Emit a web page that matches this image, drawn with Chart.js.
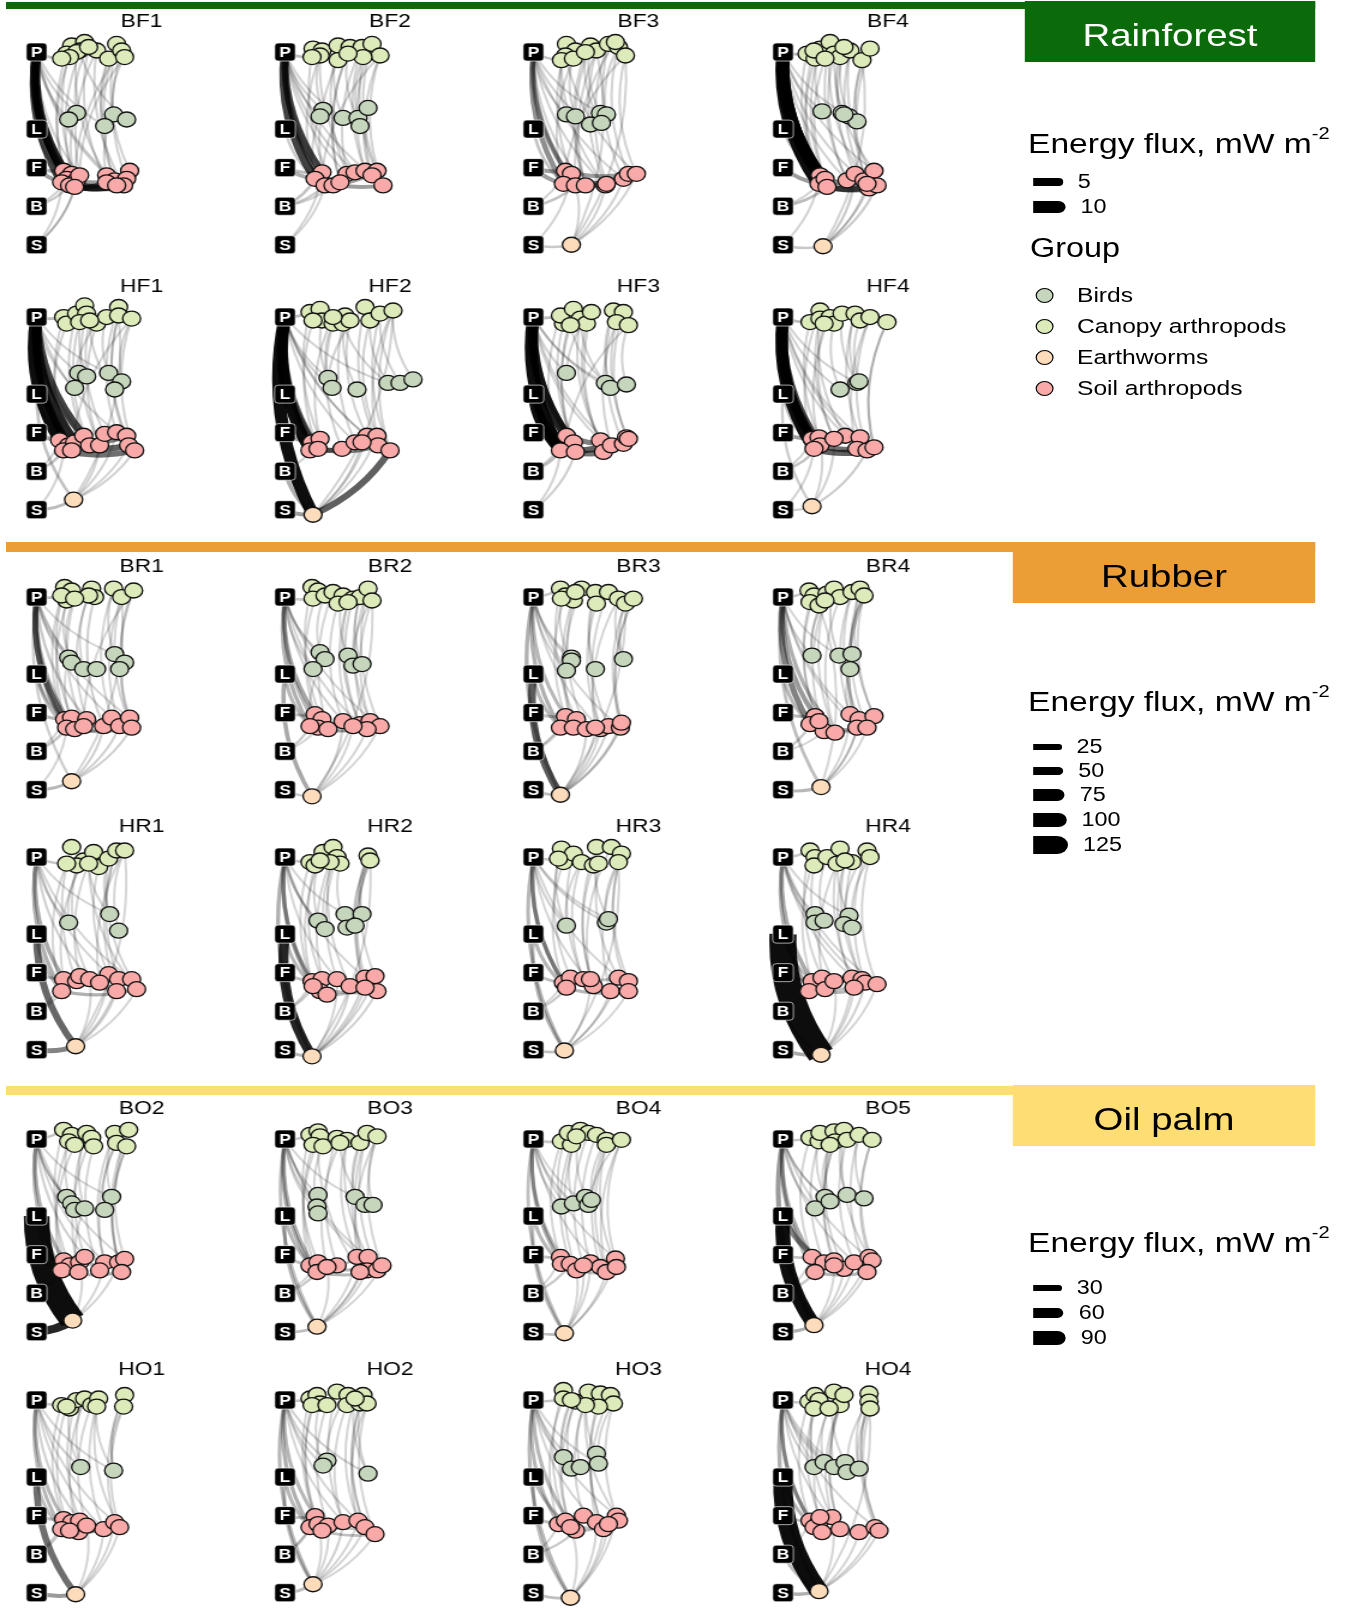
<!DOCTYPE html>
<html>
<head>
<meta charset="utf-8">
<title>Energy flux networks</title>
<script src="https://cdn.jsdelivr.net/npm/chart.js@4.4.1/dist/chart.umd.min.js"></script>
<style>
  html, body { margin: 0; padding: 0; background: #fff; }
  body { width: 1348px; height: 1610px; overflow: hidden; font-family: "Liberation Sans", Arial, sans-serif; }
  #fig { position: absolute; left: 0; top: 0; width: 1124px; height: 1610px; transform: scaleX(1.2); transform-origin: 0 0; }
  #fig > div, #fig > canvas { position: absolute; }
  .hdr { display: flex; align-items: center; justify-content: center; font-size: 32px; box-sizing: border-box; padding-top: 7px; }
  .txt { white-space: nowrap; line-height: 1; transform: translateY(-50%); }
  .dot { border: 1.3px solid #000; border-radius: 50%; box-sizing: border-box; }
</style>
</head>
<body>
<div id="fig"></div>
<script>
// ---- data ----
const panelNames = ["BF1", "BF2", "BF3", "BF4", "HF1", "HF2", "HF3", "HF4",
  "BR1", "BR2", "BR3", "BR4", "HR1", "HR2", "HR3", "HR4",
  "BO2", "BO3", "BO4", "BO5", "HO1", "HO2", "HO3", "HO4"];

const systemNames = ["Rainforest", "Rubber", "Oil palm"];
const fluxBreaks = [[5, 10], [25, 50, 75, 100, 125], [30, 60, 90]];
const groupNames = ["Birds", "Canopy arthropods", "Earthworms", "Soil arthropods"];
const resourceNames = ["P", "L", "F", "B", "S"];
const resourceLevels = [0, 2, 3, 4, 5];

// node layout: [x offset from the resource column, trophic level]
const canopyNodes = [
  [[35,-0.17],[48,-0.26],[43,-0.04],[30,0.04],[40,0],[60,-0.04],[33,0.13],[25,0.17],[80,-0.21],[72,0.17],[85,-0.04],[88,0.13],[52,-0.13]],
  [[28,-0.09],[37,-0.04],[53,-0.17],[65,-0.13],[77,-0.13],[87,-0.21],[95,0.09],[78,0.13],[53,0.21],[35,0.09],[27,0.13],[63,0.04]],
  [[33,-0.21],[42,-0.04],[32,0.09],[28,0.21],[40,0.17],[57,-0.17],[63,-0.04],[75,-0.21],[85,-0.13],[92,0.09],[82,-0.26],[52,0]],
  [[24,0.04],[32,0.17],[37,-0.09],[47,-0.26],[51,0.04],[57,0.13],[67,-0.04],[79,0.21],[87,-0.09],[61,-0.13],[31,-0.04],[42,0.17]],
  [[27,0],[30,0.17],[40,-0.09],[48,-0.3],[50,-0.09],[43,0.13],[60,0.17],[70,0],[82,-0.26],[82,-0.04],[95,0.04],[53,0.09]],
  [[25,-0.13],[35,-0.21],[37,0.09],[28,0.09],[48,0.17],[60,-0.04],[58,0.17],[65,0.09],[80,-0.26],[85,0.09],[95,-0.09],[108,-0.17],[48,0]],
  [[30,0.17],[27,-0.04],[40,-0.21],[47,0.04],[53,0.17],[58,-0.13],[80,-0.17],[90,-0.13],[83,0.13],[95,0.21],[37,0.21]],
  [[27,0.13],[37,-0.17],[37,0.04],[47,0],[51,0.17],[59,-0.09],[72,-0.09],[77,0.09],[87,0],[104,0.13],[41,0.17]],
  [[28,-0.26],[35,-0.17],[30,0.09],[25,-0.04],[55,-0.22],[58,0],[52,-0.04],[77,-0.22],[85,0],[97,-0.17],[38,0.04]],
  [[27,-0.26],[33,-0.17],[28,0.04],[40,-0.04],[48,-0.13],[58,-0.04],[53,0.17],[68,0.04],[75,0],[83,-0.22],[87,0.09],[63,0.13]],
  [[27,-0.22],[32,-0.04],[40,0.09],[28,0.04],[48,-0.22],[62,-0.13],[63,0.17],[75,-0.13],[85,0.04],[92,0.17],[100,0.04],[42,-0.13]],
  [[26,-0.17],[31,-0.04],[27,0.13],[36,0.22],[44,-0.09],[51,-0.22],[57,0],[69,-0.13],[77,-0.22],[81,-0.04],[42,0.09]],
  [[35,-0.26],[47,0.09],[40,0.22],[30,0.17],[57,-0.13],[62,0.26],[72,0.04],[80,-0.17],[88,-0.17],[52,0.17]],
  [[25,0.13],[30,0.22],[38,-0.13],[48,-0.26],[52,0],[55,0.17],[45,0.13],[83,-0.04],[85,0.09],[35,0.09]],
  [[28,-0.22],[30,0.13],[40,-0.09],[48,0.13],[60,0.22],[65,0.17],[63,-0.26],[78,-0.26],[88,-0.09],[85,0.13],[25,0.04]],
  [[27,-0.17],[32,0],[31,0.22],[44,0],[57,-0.22],[69,0.13],[54,0.17],[84,-0.17],[87,0],[62,0.09]],
  [[27,-0.24],[35,-0.11],[32,0.06],[38,0.15],[50,-0.16],[55,-0.03],[57,0.19],[78,-0.16],[92,-0.24],[80,0.1],[90,0.19]],
  [[25,-0.11],[33,-0.2],[35,-0.07],[28,0.15],[38,0.19],[52,-0.03],[62,0.02],[75,0.1],[82,-0.16],[92,-0.07],[55,0.1]],
  [[28,0.06],[38,0.15],[35,-0.16],[47,-0.24],[55,-0.16],[63,-0.11],[73,0.02],[73,0.15],[88,0.02],[43,-0.07]],
  [[27,-0.03],[36,0.06],[37,-0.16],[51,-0.2],[61,-0.24],[52,0.06],[64,0.02],[76,-0.11],[89,0.02],[47,0.15]],
  [[25,0.13],[33,0.22],[40,0],[48,-0.04],[55,0.13],[62,-0.04],[60,0.17],[88,-0.13],[87,0.17],[30,0.17]],
  [[25,-0.04],[32,-0.13],[35,0.09],[27,0.13],[42,0.13],[52,-0.22],[63,-0.13],[62,0.13],[75,0.09],[78,-0.13],[82,0.09],[70,-0.04]],
  [[30,-0.26],[30,-0.04],[42,0.04],[55,-0.22],[67,-0.17],[77,-0.13],[80,0.09],[65,0.17],[52,0.13],[38,0]],
  [[26,0.04],[32,-0.13],[36,0],[31,0.22],[51,-0.22],[57,0.13],[61,-0.13],[86,-0.17],[86,0.04],[87,0.22],[46,0.22]]
];

const birdNodes = [
  [[40,1.58],[32,1.75],[77,1.62],[68,1.92],[90,1.75]],
  [[38,1.5],[35,1.67],[58,1.71],[73,1.71],[83,1.45],[75,1.92]],
  [[33,1.62],[42,1.67],[67,1.58],[73,1.62],[57,1.88],[68,1.84]],
  [[39,1.54],[59,1.58],[66,1.67],[74,1.8],[61,1.62]],
  [[42,1.45],[50,1.54],[38,1.84],[72,1.45],[85,1.67],[78,1.88]],
  [[43,1.58],[47,1.84],[72,1.88],[103,1.71],[115,1.71],[128,1.62]],
  [[33,1.45],[72,1.71],[77,1.84],[93,1.75]],
  [[57,1.88],[74,1.71],[76,1.67]],
  [[32,1.57],[35,1.7],[47,1.87],[60,1.87],[78,1.48],[88,1.7],[83,1.87]],
  [[35,1.43],[40,1.61],[28,1.87],[63,1.52],[68,1.78],[77,1.74]],
  [[38,1.57],[38,1.65],[33,1.91],[62,1.87],[90,1.61]],
  [[29,1.52],[56,1.52],[69,1.48],[67,1.87]],
  [[32,1.7],[73,1.48],[82,1.91]],
  [[33,1.65],[40,1.87],[60,1.48],[77,1.48],[62,1.83],[70,1.78]],
  [[33,1.78],[73,1.7],[75,1.61]],
  [[32,1.48],[32,1.7],[41,1.65],[66,1.52],[61,1.74],[69,1.83]],
  [[30,1.5],[35,1.67],[38,1.84],[48,1.8],[75,1.5],[68,1.84]],
  [[33,1.45],[32,1.75],[33,1.93],[70,1.5],[80,1.71],[88,1.71]],
  [[28,1.75],[40,1.67],[52,1.5],[55,1.71],[58,1.58]],
  [[42,1.5],[32,1.8],[47,1.62],[64,1.45],[81,1.54]],
  [[44,1.74],[77,1.83]],
  [[42,1.57],[38,1.7],[83,1.91]],
  [[30,1.48],[38,1.78],[47,1.74],[63,1.39],[65,1.65]],
  [[31,1.74],[41,1.61],[51,1.74],[62,1.61],[64,1.87],[76,1.78]]
];

const soilNodes = [
  [[27,3.08],[35,3.16],[30,3.29],[40,3.33],[25,3.38],[33,3.46],[43,3.2],[38,3.5],[70,3.2],[78,3.33],[93,3.08],[90,3.29],[70,3.38],[87,3.46],[80,3.46]],
  [[37,3.12],[30,3.29],[40,3.46],[48,3.46],[62,3.16],[70,3.12],[80,3.08],[92,3.08],[87,3.2],[98,3.46],[55,3.38]],
  [[32,3.08],[38,3.16],[30,3.42],[42,3.46],[52,3.46],[72,3.46],[73,3.42],[90,3.29],[95,3.16],[103,3.16]],
  [[37,3.2],[36,3.42],[42,3.29],[44,3.5],[64,3.33],[72,3.16],[81,3.33],[91,3.08],[86,3.54],[94,3.46],[84,3.42]],
  [[23,3.2],[32,3.33],[27,3.46],[38,3.25],[47,3.08],[53,3.33],[63,3.33],[68,3.03],[80,2.99],[90,3.08],[92,3.33],[98,3.46],[35,3.46]],
  [[27,3.25],[25,3.46],[35,3.16],[33,3.42],[57,3.42],[70,3.25],[82,3.08],[92,3.08],[93,3.33],[105,3.46],[77,3.25]],
  [[33,3.08],[40,3.25],[27,3.46],[42,3.5],[67,3.2],[70,3.5],[78,3.33],[90,3.29],[93,3.12],[95,3.16]],
  [[29,3.16],[36,3.12],[37,3.33],[31,3.42],[62,3.08],[77,3.12],[74,3.42],[84,3.46],[91,3.38],[51,3.16]],
  [[28,3.17],[35,3.13],[30,3.39],[38,3.43],[50,3.17],[67,3.35],[75,3.13],[83,3.35],[93,3.13],[95,3.39],[47,3.35]],
  [[30,3.04],[37,3.17],[33,3.39],[25,3.35],[58,3.22],[75,3.3],[85,3.22],[95,3.35],[82,3.43],[68,3.35],[43,3.43]],
  [[32,3.09],[43,3.17],[27,3.39],[40,3.39],[53,3.43],[67,3.43],[75,3.35],[87,3.39],[88,3.26],[62,3.39]],
  [[32,3.09],[27,3.3],[41,3.48],[52,3.52],[67,3.04],[76,3.17],[74,3.39],[91,3.09],[84,3.39],[36,3.22]],
  [[27,3.17],[40,3.22],[25,3.48],[43,3.09],[53,3.17],[72,3.04],[82,3.17],[95,3.17],[80,3.48],[100,3.43],[63,3.26]],
  [[27,3.22],[37,3.17],[35,3.48],[28,3.35],[52,3.17],[65,3.35],[80,3.13],[90,3.09],[92,3.48],[80,3.39],[42,3.57]],
  [[30,3.26],[37,3.13],[33,3.39],[50,3.17],[60,3.35],[77,3.48],[85,3.13],[95,3.22],[95,3.48],[57,3.17]],
  [[29,3.22],[39,3.13],[26,3.48],[42,3.43],[69,3.13],[79,3.17],[82,3.26],[94,3.3],[71,3.39],[51,3.22]],
  [[27,3.15],[33,3.28],[25,3.41],[43,3.2],[48,3.06],[42,3.45],[68,3.2],[82,3.2],[88,3.11],[85,3.45],[63,3.41]],
  [[25,3.28],[33,3.2],[32,3.45],[52,3.28],[72,3.06],[83,3.06],[82,3.41],[92,3.41],[97,3.28],[75,3.45],[42,3.32]],
  [[27,3.06],[28,3.24],[37,3.24],[43,3.41],[57,3.2],[67,3.32],[73,3.45],[82,3.1],[83,3.32],[50,3.28]],
  [[29,3.06],[41,3.2],[32,3.45],[51,3.15],[61,3.37],[71,3.2],[86,3.06],[89,3.15],[84,3.45],[51,3.28]],
  [[27,3.09],[35,3.17],[25,3.35],[42,3.43],[43,3.13],[67,3.35],[78,3.17],[83,3.3],[33,3.39],[50,3.26]],
  [[30,3.01],[25,3.3],[33,3.22],[43,3.26],[58,3.17],[73,3.13],[80,3.3],[90,3.48],[37,3.39]],
  [[25,3.22],[32,3.13],[42,3.39],[50,3.0],[63,3.17],[70,3.35],[83,3.0],[85,3.13],[75,3.22],[37,3.3]],
  [[27,3.13],[36,3.17],[31,3.3],[39,3.43],[49,3.04],[57,3.35],[76,3.43],[92,3.3],[96,3.39],[37,3.04]]
];

const wormNodes = [null, null, [38,5.0], [40,5.04], [37,4.74], [28,5.13], null, [29,4.91],
  [35,4.78], [27,5.17], [27,5.13], [38,4.93], [39,4.91], [27,5.17], [31,5.02], [38,5.13],
  [36,4.71], [32,4.87], [31,5.04], [31,4.83], [39,5.04], [28,4.78], [37,5.13], [36,4.96]];

// links "from to flux" in mW m-2 (c = canopy, b = bird, s = soil, w = earthworm)
const fluxLinks = [
  "P s0 6, P s4 5, P s2 4, P s5 3, P c7 1, F s4 2, F s0 1.5, L s2 0.6, B s5 0.6, S s7 0.3, S s4 0.3, s4 s13 5, s5 s14 4, s7 s12 3, s2 s11 2, P b1 0.3, P s8 0.3, P b0 0.3, c0 s3 0.3, c5 s6 0.3, c8 s9 0.3, c10 s7 0.3, c11 b2 0.3, c12 s12 0.3, c9 b3 0.3, c4 s8 0.3, c11 s6 0.3, b0 s3 0.3, c2 b4 0.3, c3 s5 0.3, P s6 0.3, P s9 0.3, P b3 0.3, c1 s1 0.3, c6 s2 0.3, c8 s10 0.3, c10 s11 0.3, c12 b0 0.3, c9 s14 0.3, B s1 0.3, S s3 0.3, c5 s13 0.3, b2 s8 0.3",
  "P s1 5, P s0 4, P s2 2.5, P s3 2, P c10 1, F s1 1.5, F s0 1, L s1 0.6, B s1 0.8, B s2 0.5, S s2 0.3, s1 s9 2, s2 s7 2, P b1 0.3, P b2 0.3, P s4 0.3, c0 s3 0.3, c2 b2 0.3, c4 s4 0.3, c5 s6 0.3, c6 s0 0.3, c7 b5 0.3, c8 s2 0.3, c11 b3 0.3, c3 s10 0.3, c9 s5 0.3, b0 s1 0.3, b4 s8 0.3, c6 s9 0.3, P s5 0.3, P s8 0.3, P b0 0.3, c1 s1 0.3, c4 s6 0.3, c5 s7 0.3, c6 s8 0.3, c2 s4 0.3, c9 b0 0.3, c11 s10 0.3, S s0 0.3, B s3 0.3, c7 s9 0.3",
  "P s2 2.5, P s0 2, P s3 1.5, P c3 0.8, F s0 2, F s2 2, L s2 0.8, B s3 0.8, S w 0.6, s2 s9 3.5, s3 s7 3, s0 s8 2, P b0 0.3, P b4 0.3, P s4 0.3, c0 s1 0.3, c1 b1 0.3, c3 s5 0.3, c5 b2 0.3, c6 s4 0.3, c7 s6 0.3, c8 b3 0.3, c9 s0 0.3, c10 s3 0.3, c11 b5 0.3, c2 s9 0.3, w s3 0.3, w s5 0.3, w s7 0.3, w c6 0.3, w c9 0.3, P s5 0.3, P s7 0.3, P b2 0.3, c4 s2 0.3, c5 s4 0.3, c6 s5 0.3, c7 s7 0.3, c8 s8 0.3, c9 s9 0.3, c11 s4 0.3, c0 b0 0.3, S s1 0.3, B s0 0.3, w s9 0.3",
  "P s1 9, P s0 8, P s3 7, P s2 5, P c0 1, F s1 2, L s0 1, B s3 1, S w 0.6, s1 s8 3.5, s3 s9 3.5, s2 s10 3, P b0 0.3, P s4 0.3, c0 s0 0.3, c2 b0 0.3, c3 s4 0.3, c5 b1 0.5, c6 s6 0.3, c7 s8 0.3, c8 b3 0.3, c9 s5 0.3, c11 s2 0.3, c4 s7 0.3, w s5 0.5, w s9 0.5, w s7 0.3, w c7 0.3, P s5 0.3, P s7 0.3, P b2 0.3, c1 s1 0.3, c2 s3 0.3, c4 s4 0.3, c6 s9 0.3, c8 s10 0.3, c9 b2 0.3, c10 s0 0.3, c3 s6 0.3, S s0 0.3, B s1 0.3, w s10 0.3",
  "P s0 8, P s3 6, P s4 5, P s1 4, P s12 4, P c0 1, F s0 2, L s1 1, B s2 0.8, S w 1, L w 0.8, s1 s10 4, s2 s11 3.5, s3 s9 3, P b0 0.3, P b2 0.3, c1 s2 0.3, c3 b1 0.3, c5 s5 0.3, c6 s6 0.3, c7 b3 0.3, c9 s9 0.3, c10 b4 0.3, c10 s11 0.3, c11 b5 0.3, w s6 0.3, w s8 0.3, w s11 0.3, w c9 0.3, P s5 0.3, P s8 0.3, P b3 0.3, c0 s1 0.3, c2 s4 0.3, c4 s6 0.3, c8 s8 0.3, c9 s10 0.3, c10 s12 0.3, c6 b2 0.3, c11 s7 0.3, B s0 0.3, S s2 0.3, w s10 0.3",
  "P w 8, P s1 7, P s0 4, P s3 3, P c0 1, F s0 2, L s3 1, B w 1.5, S w 2, w s9 4, s3 s8 3, s1 s10 2.5, P b0 0.3, P b3 0.3, P s5 0.3, c2 b1 0.3, c4 s4 0.3, c5 b2 0.3, c7 s6 0.3, c8 b0 0.3, c9 s7 0.3, c10 b4 0.3, c11 b5 0.3, c11 s9 0.3, c12 s2 0.3, c6 b3 0.3, w s6 0.3, w c11 0.3, P s6 0.3, P s8 0.3, P b1 0.3, c0 s2 0.3, c3 s3 0.3, c5 s5 0.3, c8 s8 0.3, c9 b3 0.3, c10 s9 0.3, c11 s7 0.3, c4 b0 0.3, B s2 0.3, w s7 0.3, w s10 0.3",
  "P s2 8, P s0 6, L s2 7, L s3 3, P s1 3, P c1 1, F s0 2, B s2 1, S s3 0.4, s2 s9 4, s3 s5 3.5, s0 s7 3, P b0 0.3, P b2 0.3, c0 s1 0.3, c3 b1 0.3, c4 s4 0.3, c6 b2 0.3, c8 s6 0.3, c9 b3 0.3, c9 s0 0.3, c10 s3 0.3, c5 s5 0.3, P s4 0.3, P s6 0.3, P b1 0.3, c1 s2 0.3, c2 s3 0.3, c3 s4 0.3, c5 b0 0.3, c6 s7 0.3, c7 s8 0.3, c8 s9 0.3, B s0 0.3, S s2 0.3, c10 b1 0.3",
  "P s3 8, P s0 6, P s2 5, P c0 1, F s0 2, L s3 1, B s2 0.8, S w 0.5, L w 0.5, s3 s7 4, s2 s8 3.5, P b1 0.3, P s4 0.3, c2 s9 0.3, c4 b0 0.3, c6 s5 0.3, c7 b2 0.3, c8 s6 0.3, c9 s8 0.3, c5 b1 0.3, c3 s2 0.3, w s7 0.5, w s1 0.3, P s5 0.3, P s7 0.3, P b0 0.3, c0 s1 0.3, c1 s3 0.3, c2 s4 0.3, c6 b1 0.3, c8 s7 0.3, c9 s8 0.3, c10 s9 0.3, B s0 0.3, S s3 0.3, w s9 0.3",
  "P s0 25, P s2 20, P s3 12, P c3 8, L s2 10, L s0 8, F s0 10, B s2 6, S w 10, P b0 3, P b2 3, P s4 5, P w 4, c0 s1 3, c2 b1 2, c4 b2 2, c5 s5 3, c7 b4 3, c8 s7 2, c9 s8 3, c9 b5 2, c10 s10 2, s2 s9 12, s3 s7 10, w s5 3, w s7 3, w s9 3, w c8 2, b0 s3 2, P s6 2, P s8 2, P b4 2, c1 s0 2, c3 s2 2, c6 s4 2, c7 s6 2, c8 s9 2, c9 s10 2, c10 b0 2, b5 s8 2, B s0 2, S s2 2",
  "P s0 15, P s3 12, P s2 10, P c2 6, L s3 10, F s0 8, B s3 5, S w 5, L w 14, P b2 3, P b1 3, P s4 3, c0 s1 2, c3 b0 2, c5 b3 2, c7 s5 3, c8 b5 2, c9 s7 2, c10 s6 2, c11 s9 2, s3 s7 8, s2 s8 6, w s4 3, w s7 2, w c10 2, P s5 2, P s7 2, P b0 2, c1 s0 2, c4 s10 2, c6 s4 2, c8 s6 2, c9 s8 2, c10 b4 2, c11 s5 2, b1 s3 2, B s2 2, w s9 2, w s6 2",
  "L w 35, P w 12, P s2 12, P s0 10, P c0 6, L s2 10, F s0 8, B s2 5, S w 8, P b0 3, P b2 3, c0 s1 2, c3 b1 2, c4 s3 2, c5 b3 2, c7 s5 2, c9 b4 3, c10 s7 2, c10 s8 2, c8 b4 2, w s4 3, w s6 3, w s8 3, w s7 3, w c9 2, s2 s6 5, P s5 2, P s7 2, P b1 2, c1 s0 2, c2 s4 2, c5 s6 2, c6 s5 2, c9 s8 2, c11 s3 2, c8 s9 2, B s0 2, w s9 2, w s5 2",
  "P s1 25, P s0 18, P s3 12, P c0 6, L s1 10, F s0 10, B s1 5, S w 10, P w 8, P b0 3, c4 b0 2, c5 b1 3, c7 s4 2, c9 b2 3, c9 s6 10, c8 s7 2, c6 s3 2, c10 s2 2, s1 s8 14, s3 s6 10, w s6 2, w s8 2, w c3 2, b3 s4 2, P s4 2, P s6 2, P b1 2, c1 s0 2, c2 s9 2, c4 s3 2, c7 s5 2, c8 s8 2, c9 s7 2, c10 b0 2, B s2 2, w s4 2, w s5 2",
  "L w 32, P s0 14, P s2 12, P c3 6, L s2 10, F s0 8, B s2 4, S w 24, P b0 3, P s4 3, c0 s1 2, c1 b0 2, c4 s3 2, c6 b1 2, c7 s6 2, c8 b2 2, c9 s9 2, c5 s5 2, s2 s9 12, s3 s8 8, w s6 3, w s9 2, w s5 2, w c8 2, P s5 2, P s7 2, P b1 2, c1 s0 2, c2 s4 2, c3 s2 2, c6 s7 2, c7 s8 2, c8 s10 2, c9 b1 2, B s0 2, w s4 2, w s8 2",
  "L w 50, P w 12, P s3 14, P s0 12, P c0 6, L s3 10, F s0 8, B s3 5, S w 10, P b0 3, P b1 3, c2 b0 2, c4 s4 2, c5 b4 2, c7 b3 3, c8 s6 3, c8 b5 3, c7 s9 2, c6 s10 2, s3 s8 10, s10 s9 8, w s5 3, w s6 3, w s8 3, w s7 2, w c8 2, P s4 2, P s6 2, P b2 2, c0 s3 2, c1 s1 2, c3 s5 2, c4 b1 2, c7 s7 2, c8 s9 2, c9 s0 2, B s0 2, w s4 2, w s9 2",
  "P s2 14, P s0 12, P w 10, P c10 6, L s2 10, L w 10, F s0 8, B s2 5, S w 8, P b0 3, P b1 3, c0 s1 2, c3 b0 2, c4 s4 2, c6 b2 2, c8 s7 2, c9 b1 2, c9 s5 2, c2 s3 2, s2 s8 10, s1 s6 8, w s5 2, w s8 2, w c9 2, P s4 2, P s6 2, P b2 2, c1 s0 2, c3 s3 2, c5 s6 2, c6 s4 2, c7 s9 2, c8 s8 2, c10 b0 2, B s0 2, w s6 2, w s9 2",
  "L w 160, P s0 14, P s2 12, P c0 6, L s0 8, F s0 8, B w 10, S w 14, P b0 3, P b1 3, P s4 2, c3 b2 2, c4 b3 2, c5 s5 2, c7 b4 2, c8 s7 2, c9 s8 2, c6 s3 2, s2 s7 10, s3 s6 8, w s6 3, w s7 2, w s8 2, P s5 2, P s7 2, P b3 2, c0 s1 2, c1 s0 2, c2 s9 2, c4 s4 2, c7 s6 2, c8 b5 2, c9 s5 2, B s0 2, w s4 2, w s9 2",
  "L w 150, S w 50, P s0 12, P s2 10, P c0 6, L s2 8, F s2 8, B s2 4, P b0 3, P b1 3, P s4 3, c0 s1 2, c2 b2 2, c4 b3 2, c5 s5 2, c7 b4 2, c8 s7 2, c9 s6 2, c10 s9 2, c6 s10 2, s2 s9 10, s3 s7 8, w s3 2, b3 s5 2, P s6 2, P s8 2, P b4 2, c1 s0 2, c3 s2 2, c4 s4 2, c7 s6 2, c8 s8 2, c9 b5 2, c10 s7 2, B s0 2, w s6 2, w s7 2",
  "P s0 12, P s2 12, P w 8, P c0 6, L s2 10, L w 10, F s0 8, B s2 5, S w 8, P b0 3, P b1 3, P b2 3, c0 s1 2, c4 b1 2, c5 s3 2, c6 s4 2, c7 b3 2, c8 s6 2, c9 b5 2, c9 s8 2, c10 s10 2, c1 s9 2, s2 s7 10, s0 s8 10, s3 s4 8, w s4 2, w s6 2, w s8 2, w s9 2, P s5 2, P s7 2, P b3 2, c2 s0 2, c3 s2 2, c6 s5 2, c7 s6 2, c8 s7 2, c9 s9 2, c10 b4 2, B s1 2, w s10 2, w s5 2",
  "P s1 12, P s0 10, P w 8, P c0 6, L s1 10, L w 8, F s0 8, B s2 5, S w 8, P b0 3, P b1 3, c2 b0 2, c3 b2 2, c5 s4 2, c6 b4 2, c7 s6 2, c8 b3 2, c8 s7 2, c9 s3 2, s2 s8 8, s3 s6 6, w s4 2, w s7 2, w s3 2, P s5 2, P s7 2, P b3 2, c0 s0 2, c1 s2 2, c4 s9 2, c6 s5 2, c7 s8 2, c8 s6 2, c9 b1 2, B s0 2, w s6 2, w s9 2",
  "L w 80, P w 18, P s0 14, P s2 12, P c0 6, L s1 24, F s0 8, B s2 5, S w 12, P b0 3, P b1 3, c2 b0 2, c3 b2 2, c4 b3 2, c5 s3 2, c7 b4 2, c8 s7 2, c9 s4 2, c6 s5 2, s2 s8 10, s1 s9 8, w s6 2, w s8 2, w s5 2, P s5 2, P s7 2, P b2 2, c0 s0 2, c1 s1 2, c4 s6 2, c5 s9 2, c7 s8 2, c8 s6 2, c9 b0 2, B s0 2, w s9 2, w s4 2",
  "L w 30, P s0 10, P s2 10, P c0 6, L s2 8, F s0 8, B s2 4, S w 18, P b0 3, P s4 3, c1 b0 2, c3 s3 2, c5 s5 2, c6 b1 2, c7 s6 2, c8 b1 2, c8 s7 2, c9 s8 2, s2 s7 8, s3 s5 6, w s5 2, w s7 2, P s5 2, P s6 2, P b1 2, c0 s0 2, c2 s4 2, c3 b0 2, c4 s9 2, c7 b1 2, c6 s7 2, B s0 2, w s6 2, w s9 2",
  "P s1 12, P s0 10, P w 10, P c0 6, L s1 10, L w 8, F s0 8, B s1 5, S w 8, P b0 3, P b2 3, c0 s2 2, c2 b1 2, c5 s4 2, c6 b0 2, c8 s6 2, c9 b2 2, c10 s7 2, c11 s5 2, s1 s7 8, s2 s6 6, w s4 3, w s5 2, w s6 2, w s3 2, P s4 2, P s6 2, P b1 2, c1 s0 2, c3 s8 2, c4 s3 2, c7 s4 2, c9 s6 2, c11 b2 2, c10 s5 2, B s0 2, w s7 2, w s2 2",
  "P s0 10, P s2 10, P w 10, P c1 6, L s2 10, L w 8, F s0 8, B s2 5, S w 8, P b0 3, P b2 3, c0 s1 2, c2 b1 2, c3 b3 2, c5 s4 2, c6 b4 2, c7 s5 2, c8 s6 2, c9 s9 2, s2 s8 8, s1 s5 6, w s4 2, w s6 2, w s8 2, P s4 2, P s6 2, P b4 2, c1 s0 2, c2 s9 2, c4 s5 2, c6 s7 2, c8 b2 2, c9 b0 2, c3 s3 2, B s0 2, w s5 2, w s9 2",
  "L w 110, P w 12, P s0 12, P s2 10, P c0 6, L s2 10, F s0 8, B w 8, S w 12, P b0 3, P b1 3, P b2 3, c2 b0 2, c4 b3 2, c5 s5 2, c6 b2 2, c7 b5 2, c8 s7 2, c8 b4 2, c9 s8 2, c10 s3 2, c1 s4 2, s2 s7 8, s3 s6 8, w s6 2, w s8 2, w c8 2, P s5 2, P s7 2, P b4 2, c0 s0 2, c3 s9 2, c5 s4 2, c6 s5 2, c7 s8 2, c9 b5 2, c10 b1 2, B s0 2, w s4 2, w s7 2"
];

// ---- styling / layout ----
const groupColors = ["#c5d6bc", "#dcebb9", "#fddcbc", "#f9aaa8"];
const sectionColors = ["#0b6b0b", "#eb9e35", "#fedd72"];
const sectionText = ["#fff", "#000", "#000"];
const widthBase = [1.8, 1.8, 1.8];
const widthPerFlux = [1.1, 0.13, 0.13];

const stretch = 1.2;
const colPx = [37, 285, 533, 783];
const rowPy = [52, 317, 597, 857, 1139, 1400];
const xMin = -15, xMax = 225, yMin = -0.39, yMax = 5.5;
const curve = 0.15;
const nodeRadius = 7.5;
const fontFamily = "'Liberation Sans', Arial, sans-serif";

Chart.defaults.font.family = fontFamily;

const fig = document.getElementById("fig");

function px(xOrig) {
  return xOrig / stretch;
}

function edgeWidth(sys, flux) {
  return widthBase[sys] + widthPerFlux[sys] * flux;
}

function edgeAlpha(w) {
  return Math.min(0.95, 0.16 + 0.11 * (w - 2));
}

function parseLinks(str) {
  return str.split(",").map(s => s.trim().split(/\s+/)).map(([from, to, f]) => ({ from, to, flux: Number(f) }));
}

function nodePositions(i) {
  const pos = {};
  resourceNames.forEach((r, k) => pos[r] = [0, resourceLevels[k]]);
  canopyNodes[i].forEach((p, k) => pos["c" + k] = p);
  birdNodes[i].forEach((p, k) => pos["b" + k] = p);
  soilNodes[i].forEach((p, k) => pos["s" + k] = p);
  if (wormNodes[i]) pos.w = wormNodes[i];
  return pos;
}

function drawEdges(chart, i) {
  const sys = Math.floor(i / 8);
  const pos = nodePositions(i);
  const ctx = chart.ctx;
  const xs = chart.scales.x;
  const ys = chart.scales.y;

  ctx.save();
  ctx.lineCap = "butt";
  parseLinks(fluxLinks[i]).forEach(link => {
    const a = pos[link.from];
    const b = pos[link.to];
    if (!a || !b) return;
    const x1 = xs.getPixelForValue(a[0]), y1 = ys.getPixelForValue(a[1]);
    const x2 = xs.getPixelForValue(b[0]), y2 = ys.getPixelForValue(b[1]);
    const cx = (x1 + x2) / 2 - curve * (y2 - y1);
    const cy = (y1 + y2) / 2 + curve * (x2 - x1);
    const w = edgeWidth(sys, link.flux);
    ctx.lineWidth = w;
    ctx.strokeStyle = "rgba(0,0,0," + edgeAlpha(w) + ")";
    ctx.beginPath();
    ctx.moveTo(x1, y1);
    ctx.quadraticCurveTo(cx, cy, x2, y2);
    ctx.stroke();
  });
  ctx.restore();
}

function drawResources(chart) {
  const ctx = chart.ctx;
  const xs = chart.scales.x;
  const ys = chart.scales.y;

  ctx.save();
  resourceNames.forEach((r, k) => {
    const cx = xs.getPixelForValue(0);
    const cy = ys.getPixelForValue(resourceLevels[k]);
    ctx.fillStyle = "#000";
    ctx.strokeStyle = "rgba(255,255,255,0.8)";
    ctx.lineWidth = 0.8;
    ctx.beginPath();
    ctx.roundRect(cx - 8.6, cy - 9, 17.2, 18, 3);
    ctx.fill();
    ctx.stroke();
    ctx.fillStyle = "#fff";
    ctx.font = "bold 14.5px " + fontFamily;
    ctx.textAlign = "center";
    ctx.textBaseline = "middle";
    ctx.fillText(r, cx, cy + 0.8);
  });
  ctx.restore();
}

function nodeDataset(label, nodes, color) {
  return {
    label,
    data: nodes.map(([x, y]) => ({ x, y })),
    backgroundColor: color,
    borderColor: "#111",
    borderWidth: 1.3,
    pointRadius: nodeRadius,
    pointHoverRadius: nodeRadius,
    clip: false
  };
}

function buildPanel(i) {
  const row = Math.floor(i / 4);
  const col = i % 4;
  const canvas = document.createElement("canvas");
  canvas.width = 200;
  canvas.height = 257;
  canvas.style.left = px(colPx[col] + xMin) + "px";
  canvas.style.top = (rowPy[row] - 45) + "px";
  fig.appendChild(canvas);

  const datasets = [
    nodeDataset(groupNames[1], canopyNodes[i], groupColors[1]),
    nodeDataset(groupNames[0], birdNodes[i], groupColors[0]),
    nodeDataset(groupNames[3], soilNodes[i], groupColors[3])
  ];
  if (wormNodes[i]) datasets.push(nodeDataset(groupNames[2], [wormNodes[i]], groupColors[2]));

  new Chart(canvas, {
    type: "scatter",
    data: { datasets },
    options: {
      responsive: false,
      animation: false,
      events: [],
      layout: { padding: 0, autoPadding: false },
      plugins: {
        legend: { display: false },
        tooltip: { enabled: false },
        title: {
          display: true,
          text: panelNames[i],
          color: "#000",
          font: { family: fontFamily, size: 19, weight: "normal", lineHeight: 1.2 },
          padding: { top: 3, bottom: 4.2 }
        }
      },
      scales: {
        x: { type: "linear", min: xMin, max: xMax, display: false },
        y: { type: "linear", min: yMin, max: yMax, reverse: true, display: false }
      }
    },
    plugins: [{
      id: "network" + i,
      beforeDatasetsDraw(chart) { drawEdges(chart, i); },
      afterDatasetsDraw(chart) { drawResources(chart); }
    }]
  });
}

function addBox(left, top, width, height, css, html) {
  const d = document.createElement("div");
  d.style.left = left + "px";
  d.style.top = top + "px";
  if (width !== null) d.style.width = width + "px";
  if (height !== null) d.style.height = height + "px";
  Object.assign(d.style, css || {});
  if (html) d.innerHTML = html;
  fig.appendChild(d);
  return d;
}

function addText(left, centerY, size, html) {
  const d = addBox(left, centerY, null, null, { fontSize: size + "px" }, html);
  d.className = "txt";
  return d;
}

// section bars and headers
const barTop = [2, 542, 1086];
const barHeight = [7, 10, 9];
const boxLeft = [1025, 1013, 1013];
const boxTop = [1, 542, 1085];
systemNames.forEach((name, s) => {
  addBox(px(6), barTop[s], px(1315 - 6), barHeight[s], { background: sectionColors[s] });
  const h = addBox(px(boxLeft[s]), boxTop[s], px(1315 - boxLeft[s]), 61,
    { background: sectionColors[s], color: sectionText[s] }, name);
  h.className = "hdr";
});

// flux legends
const fluxTitleY = [142, 700, 1241];
const fluxItemY = [[182, 207], [747, 771, 795, 820, 845], [1288, 1313, 1338]];
const fluxTitle = "Energy flux, mW m<span style=\"font-size:0.6em;vertical-align:0.8em\">-2</span>";
systemNames.forEach((name, s) => {
  addText(px(1028), fluxTitleY[s], 28, fluxTitle);
  fluxBreaks[s].forEach((f, k) => {
    const h = edgeWidth(s, f);
    const len = 26 + h * 0.5;
    addBox(px(1033), fluxItemY[s][k] - h / 2, px(len), h,
      { background: "#000", borderRadius: "0 " + (h / 2) + "px " + (h / 2) + "px 0" });
    addText(px(1033 + len + 15), fluxItemY[s][k], 19.5, String(f));
  });
});

// group legend
const groupItemY = [295, 326, 357, 388];
addText(px(1030), 248, 27, "Group");
groupNames.forEach((g, k) => {
  const d = addBox(px(1045) - 7.5, groupItemY[k] - 7.5, 15, 15, { background: groupColors[k] });
  d.className = "dot";
  addText(px(1077), groupItemY[k], 20.5, g);
});

panelNames.forEach((name, i) => buildPanel(i));
</script>
</body>
</html>
